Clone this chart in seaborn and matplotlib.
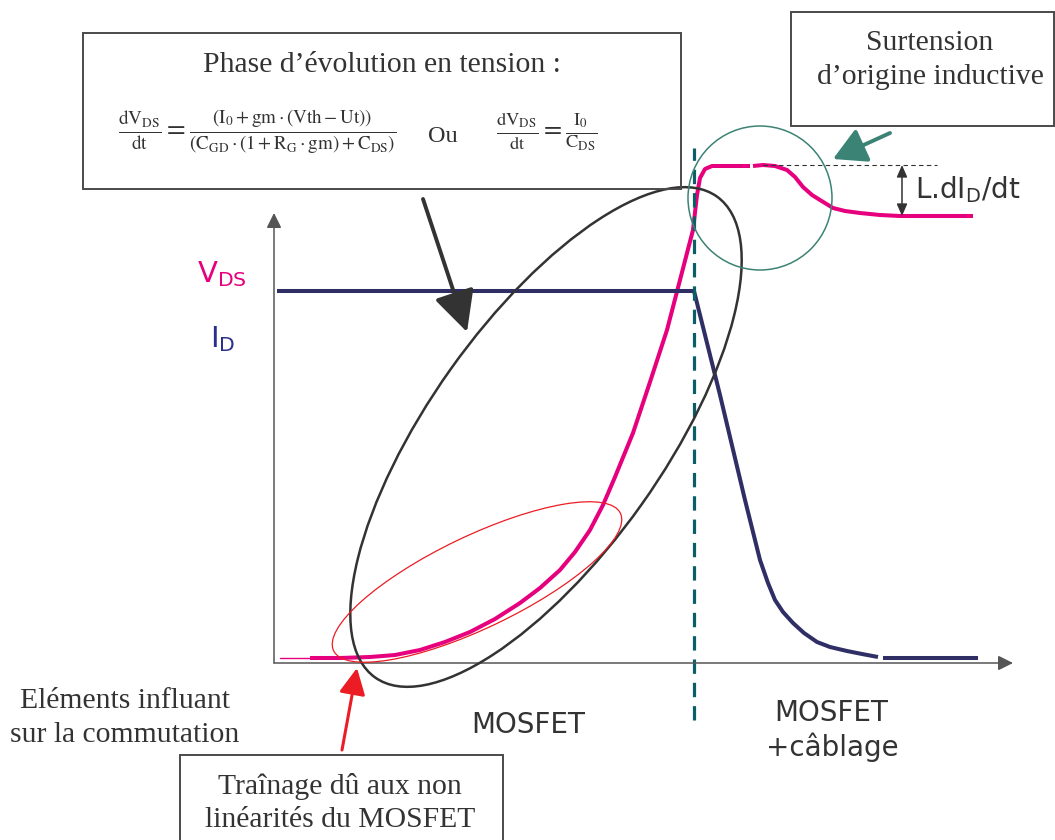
import matplotlib
matplotlib.use("Agg")
import matplotlib.pyplot as plt
import seaborn as sns
from matplotlib.patches import Ellipse, Rectangle

# ---------------------------------------------------------------------------
# Waveforms (arbitrary time / amplitude units, origin at the axes corner)
# ---------------------------------------------------------------------------
# V_DS: thin lead-in, rising edge up to the plateau, then the inductive overshoot
vds_lead_time = [6, 36]
vds_lead_level = [5, 5]
vds_rise_time = [36, 66, 96, 121, 146, 171, 196, 221, 246, 266, 286, 301, 316, 329,
                 341, 359, 376, 393, 406, 419, 423, 426, 431, 438, 476]
vds_rise_level = [5, 5, 6, 8, 13, 21, 31, 44, 60, 75, 93, 111, 133, 158,
                  186, 230, 281, 333, 383, 433, 468, 485, 494, 497, 497]
vds_over_time = [479, 489, 501, 513, 521, 529, 538, 546, 559, 571, 586, 606, 626, 699]
vds_over_level = [497, 498, 497, 493, 486, 476, 468, 463, 455, 452, 450, 448, 447, 447]

# I_D: constant current, then the fall at turn-off
id_time = [3, 420, 446, 471, 486, 494, 501, 509, 519, 530, 543, 556, 573, 588, 604]
id_level = [372, 372, 268, 163, 103, 80, 63, 51, 40, 30, 21, 16, 12, 9, 6]
id_tail_time = [609, 704]
id_tail_level = [5, 5]

switch_time = 420          # end of the MOSFET-only phase
overshoot_top = 498
overshoot_settle = 447

MAGENTA = "#e6007e"
NAVY = "#2f2f66"
DARK = "#333333"
TEAL = "#3b8374"
RED = "#ec1c24"
BOX = "#4a4a4a"

sns.set_theme(style="white")
plt.rcParams["font.family"] = ["DejaVu Sans"]

fig = plt.figure(figsize=(10.55, 8.4), dpi=100)
ax = fig.add_axes([0, 0, 1, 1])
ax.set_xlim(-274, 781)
ax.set_ylim(-177, 663)
ax.set_aspect("equal")
ax.axis("off")

# ---------------------------------------------------------------------------
# Axes arrows
# ---------------------------------------------------------------------------
axis_style = dict(arrowstyle="-|>,head_length=1.0,head_width=0.5", mutation_scale=9,
                  lw=1.1, color="#555555", shrinkA=0, shrinkB=0)
ax.annotate("", xy=(0, 450), xytext=(0, 0), arrowprops=axis_style)
ax.annotate("", xy=(739, 0), xytext=(0, 0), arrowprops=axis_style)

# ---------------------------------------------------------------------------
# Waveforms
# ---------------------------------------------------------------------------
line_kw = dict(ax=ax, sort=False, estimator=None, legend=False)
sns.lineplot(x=vds_lead_time, y=vds_lead_level, color=MAGENTA, linewidth=1.0, **line_kw)
sns.lineplot(x=vds_rise_time, y=vds_rise_level, color=MAGENTA, linewidth=2.9,
             solid_capstyle="butt", solid_joinstyle="round", **line_kw)
sns.lineplot(x=vds_over_time, y=vds_over_level, color=MAGENTA, linewidth=2.9,
             solid_capstyle="butt", solid_joinstyle="round", **line_kw)
sns.lineplot(x=id_time, y=id_level, color=NAVY, linewidth=2.9,
             solid_capstyle="butt", solid_joinstyle="round", **line_kw)
sns.lineplot(x=id_tail_time, y=id_tail_level, color=NAVY, linewidth=2.9,
             solid_capstyle="butt", **line_kw)

# boundary between the two phases
ax.plot([switch_time, switch_time], [-57, 515], color="#0b5e66", lw=2.3,
        dashes=(4.5, 2.8))

# overshoot amplitude marker
ax.plot([489, 663], [overshoot_top, overshoot_top], color=DARK, lw=0.8, dashes=(4, 3))
ax.annotate("", xy=(628, overshoot_top), xytext=(628, overshoot_settle),
            arrowprops=dict(arrowstyle="<|-|>,head_length=0.8,head_width=0.35",
                            mutation_scale=9, lw=1.1, color=DARK,
                            shrinkA=0, shrinkB=0))
ax.text(641, 473, r"L.dI$_\mathregular{D}$/dt", fontsize=20, color=DARK,
        ha="left", va="center")

# ---------------------------------------------------------------------------
# Highlight ellipses
# ---------------------------------------------------------------------------
ax.add_patch(Ellipse((272, 226), 590, 234, angle=54.6, fill=False,
                     ec=DARK, lw=1.8, zorder=3))
ax.add_patch(Ellipse((203, 81), 318, 92, angle=25.6, fill=False,
                     ec=RED, lw=0.9, zorder=3))
ax.add_patch(Ellipse((486, 465), 144, 144, fill=False, ec=TEAL, lw=1.1, zorder=3))

# ---------------------------------------------------------------------------
# Axis labels
# ---------------------------------------------------------------------------
ax.text(-77, 381, r"$\mathregular{V_{DS}}$", fontsize=21, color=MAGENTA,
        ha="left", va="baseline")
ax.text(-64, 316, r"$\mathregular{I_{D}}$", fontsize=21, color="#2b2f8c",
        ha="left", va="baseline")

# ---------------------------------------------------------------------------
# Annotation boxes
# ---------------------------------------------------------------------------
serif = ["Liberation Serif", "DejaVu Serif"]
SERIF_SIZE = 21.3

ax.add_patch(Rectangle((-191, 474), 598, 156, fill=False, ec=BOX, lw=1.4, zorder=4))
ax.text(108, 598, "Phase d\u2019évolution en tension :", family=serif,
        fontsize=SERIF_SIZE, color=DARK, ha="center", va="center")
ax.text(-17, 531,
        r"$\frac{\mathrm{dV}_{\mathrm{DS}}}{\mathrm{dt}}=\frac{\left(\mathrm{I}_{0}+"
        r"\mathrm{gm}\cdot\left(\mathrm{Vth}-\mathrm{Ut}\right)\right)}"
        r"{\left(\mathrm{C}_{\mathrm{GD}}\cdot\left(1+\mathrm{R}_{\mathrm{G}}\cdot"
        r"\mathrm{gm}\right)+\mathrm{C}_{\mathrm{DS}}\right)}$",
        math_fontfamily="stix", fontsize=19.5, color=DARK, ha="center", va="center")
ax.text(169, 526, "Ou", family=serif, fontsize=17.5, color=DARK,
        ha="center", va="center")
ax.text(273, 531,
        r"$\frac{\mathrm{dV}_{\mathrm{DS}}}{\mathrm{dt}}=\frac{\mathrm{I}_{0}}"
        r"{\mathrm{C}_{\mathrm{DS}}}$",
        math_fontfamily="stix", fontsize=19, color=DARK, ha="center", va="center")

ax.add_patch(Rectangle((517, 537), 263, 114, fill=False, ec=BOX, lw=1.4, zorder=4,
                       clip_on=False))
ax.text(656, 620, "Surtension", family=serif, fontsize=SERIF_SIZE, color=DARK,
        ha="center", va="center")
ax.text(656, 586, "d\u2019origine inductive", family=serif, fontsize=SERIF_SIZE,
        color=DARK, ha="center", va="center")

ax.add_patch(Rectangle((-94, -190), 323, 98, fill=False, ec=BOX, lw=1.4, zorder=4))
ax.text(66, -123, "Traînage dû aux non", family=serif, fontsize=SERIF_SIZE,
        color=DARK, ha="center", va="center")
ax.text(66, -157, "linéarités du MOSFET", family=serif, fontsize=SERIF_SIZE,
        color=DARK, ha="center", va="center")

ax.text(-149, -38, "Eléments influant", family=serif, fontsize=SERIF_SIZE,
        color=DARK, ha="center", va="center")
ax.text(-149, -72, "sur la commutation", family=serif, fontsize=SERIF_SIZE,
        color=DARK, ha="center", va="center")

# phase labels
ax.text(254, -62, "MOSFET", fontsize=20, color=DARK, ha="center", va="center")
ax.text(557, -50, "MOSFET", fontsize=20, color=DARK, ha="center", va="center")
ax.text(558, -84, "+câblage", fontsize=20, color=DARK, ha="center", va="center")

# ---------------------------------------------------------------------------
# Pointer arrows
# ---------------------------------------------------------------------------
ax.annotate("", xy=(193, 331), xytext=(149, 464),
            arrowprops=dict(arrowstyle="-|>,head_length=0.9,head_width=0.45",
                            mutation_scale=28, lw=2.8, color=DARK,
                            shrinkA=0, shrinkB=0), zorder=5)
ax.annotate("", xy=(83, -5), xytext=(68, -87),
            arrowprops=dict(arrowstyle="-|>,head_length=1.0,head_width=0.5",
                            mutation_scale=16, lw=2.2, color=RED,
                            shrinkA=0, shrinkB=0), zorder=5)
ax.annotate("", xy=(559, 504), xytext=(616, 530),
            arrowprops=dict(arrowstyle="-|>,head_length=1.0,head_width=0.55",
                            mutation_scale=20, lw=2.8, color=TEAL,
                            shrinkA=0, shrinkB=0), zorder=5)

fig.savefig("out.png", dpi=100, facecolor="white")
